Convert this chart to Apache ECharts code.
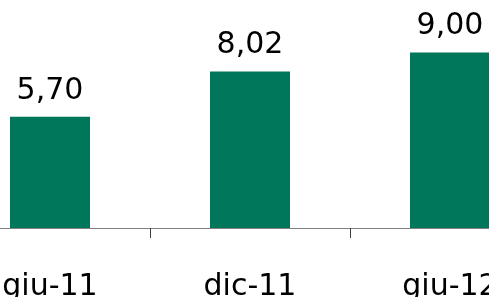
<!DOCTYPE html>
<html>
<head>
<meta charset="utf-8">
<script src="https://cdn.jsdelivr.net/npm/echarts@6/dist/echarts.min.js"></script>
<style>
  html, body { margin: 0; padding: 0; background: #ffffff; overflow: hidden; }
  #wrap { width: 489px; height: 297px; overflow: hidden; position: relative; }
  /* il grafico originale e' tagliato ai lati */
  #chart { width: 600px; height: 297px; position: absolute; left: -50px; top: 0; }
</style>
</head>
<body>
<div id="wrap"><div id="chart"></div></div>
<script>
  // dati
  var categories = ['giu-11', 'dic-11', 'giu-12'];
  var values = [5.70, 8.02, 9.00];

  var mainChart = echarts.init(document.getElementById('chart'));
  var option = {
    animation: false,
    textStyle: {
      fontFamily: 'DejaVu Sans'
    },
    grid: {
      left: 0,
      right: 0,
      top: 33,
      bottom: 69,
      containLabel: false,
      outerBoundsMode: 'none'
    },
    xAxis: {
      type: 'category',
      data: categories,
      axisLine: {
        lineStyle: { color: '#808080', width: 1 }
      },
      axisTick: {
        show: true,
        length: 10,
        lineStyle: { color: '#404040' }
      },
      axisLabel: {
        interval: 0,
        margin: 44,
        fontSize: 30,
        color: '#000000'
      }
    },
    yAxis: {
      type: 'value',
      min: 0,
      max: 10,
      show: false,
      splitLine: { show: false }
    },
    series: [
      {
        type: 'bar',
        data: values,
        barWidth: 80,
        itemStyle: {
          color: '#00765A'
        },
        label: {
          show: true,
          position: 'top',
          distance: 11,
          fontSize: 30,
          color: '#000000',
          formatter: function (p) {
            // virgola come separatore decimale
            return p.value.toFixed(2).replace('.', ',');
          }
        }
      }
    ]
  };
  mainChart.setOption(option, true);
</script>
</body>
</html>
